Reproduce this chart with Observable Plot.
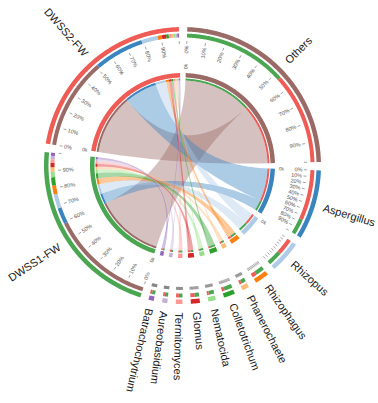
<!DOCTYPE html>
<html><head><meta charset="utf-8">
<script src="https://cdn.jsdelivr.net/npm/d3@7"></script>
<script src="https://cdn.jsdelivr.net/npm/@observablehq/plot@0.6"></script>
<style>body{margin:0;background:#fff} svg{display:block}</style>
</head><body><div id="chart"></div>
<script>
// ---- data ----
const genera = ["Others","Aspergillus","Rhizopus","Rhizophagus","Phanerochaete","Colletotrichum","Nematocida","Glomus","Termitomyces","Aureobasidium","Batrachochytrium"];
const genusColors = ["#9a6b66","#3a84c0","#aecbe8","#ff7f0e","#ffbb78","#2ca02c","#98df8a","#d62728","#ff9896","#c5b0d5","#9467bd"];
const samples = ["DWSS1-FW","DWSS2-FW"];
const sampleColors = ["#4aa651","#ef5b55"];
const dwss1 = [58, 9, 8, 5, 2.5, 4.5, 3, 2.5, 2, 1.8, 1.8];
const dwss2 = [51, 28, 9, 2.5, 1.2, 1.5, 1, 2.3, 1.5, 1, 1];
const tickPercents = [0,10,20,30,40,50,60,70,80,90,100];
const tickLabels = ["0%","10%","20%","30%","40%","50%","60%","70%","80%","90%"];
const labelledSectors = ["Others","Aspergillus","DWSS1-FW","DWSS2-FW"];
const zeroLabelSectors = ["Others","Aspergillus","Rhizopus","DWSS1-FW","DWSS2-FW"];

// ---- layout ----
const GAP = 3.5, START = 2;
const R = {chord: 85, tgt0: 85, tgt1: 87, in0: 88, in1: 92.5, lab: 120, tk0: 121.5, tk1: 124.5, st0: 128, st1: 132, out0: 134, out1: 138.5, name: 147, zero: 99};
const sectors = [
  ...genera.map((g, i) => ({name: g, color: genusColors[i], kind: "genus"})),
  ...samples.map((s, i) => ({name: s, color: sampleColors[i], kind: "sample"}))
];
const colorOf = Object.fromEntries(sectors.map(s => [s.name, s.color]));
const links = [];
genera.forEach((g, i) => {
  links.push({s: samples[0], g, v: dwss1[i]});
  links.push({s: samples[1], g, v: dwss2[i]});
});
sectors.forEach(sec => sec.total = d3.sum(links.filter(l => l.s === sec.name || l.g === sec.name), l => l.v));
const k = (360 - GAP * sectors.length) / d3.sum(sectors, s => s.total);
let acc = START;
sectors.forEach(sec => { sec.a0 = acc; sec.a1 = acc + sec.total * k; acc = sec.a1 + GAP; });
sectors.forEach(sec => {
  const own = links.filter(l => l.s === sec.name || l.g === sec.name).sort((p, q) => q.v - p.v);
  let pos = sec.a0;
  own.forEach(l => {
    const end = {a0: pos, a1: pos + l.v * k};
    if (l.s === sec.name) l.sEnd = end; else l.gEnd = end;
    pos = end.a1;
  });
});

// ---- geometry helpers ----
const rad = d => d * Math.PI / 180;
const pt = (r, deg) => [r * Math.sin(rad(deg)), r * Math.cos(rad(deg))];
function arcPts(r, d0, d1) {
  const n = Math.max(2, Math.ceil(Math.abs(d1 - d0) / 0.5) + 1);
  return d3.range(n).map(i => pt(r, d0 + (d1 - d0) * i / (n - 1)));
}
const band = (r0, r1, d0, d1) => [...arcPts(r1, d0, d1), ...arcPts(r0, d1, d0)];
function bez(p0, p2, n = 40) {
  return d3.range(1, n).map(i => { const t = i / n, u = 1 - t; return [u*u*p0[0] + t*t*p2[0], u*u*p0[1] + t*t*p2[1]]; });
}
function ribbon(r, s, t) {
  const A = arcPts(r, s.a0, s.a1), B = arcPts(r, t.a0, t.a1);
  return [...A, ...bez(A[A.length - 1], B[0]), ...B, ...bez(B[B.length - 1], A[0])];
}
let pid = 0;
const toRows = polys => polys.flatMap(p => { const id = pid++; return p.pts.map(([x, y]) => ({id, x, y, fill: p.fill})); });

// chords
const chordPolys = [...links].sort((a, b) => b.v - a.v).map(l => ({pts: ribbon(R.chord, l.sEnd, l.gEnd), fill: colorOf[l.g]}));
// rings
const ringPolys = [];
sectors.forEach(sec => {
  ringPolys.push({pts: band(R.in0, R.in1, sec.a0, sec.a1), fill: sec.color});
  ringPolys.push({pts: band(R.out0, R.out1, sec.a0, sec.a1), fill: sec.color});
});
links.forEach(l => {
  [[l.sEnd, colorOf[l.g]], [l.gEnd, colorOf[l.s]]].forEach(([e, c]) => {
    ringPolys.push({pts: band(R.tgt0, R.tgt1, e.a0, e.a1), fill: c});
    ringPolys.push({pts: band(R.st0, R.st1, e.a0, e.a1), fill: c});
  });
});
const chordRows = toRows(chordPolys);
const ringRows = toRows(ringPolys);

// ticks and labels
const ticks = [], tickTextR = [], tickTextL = [];
sectors.forEach(sec => {
  tickPercents.forEach((p, i) => {
    const a = sec.a0 + (sec.a1 - sec.a0) * p / 100;
    const [x1, y1] = pt(R.tk0, a), [x2, y2] = pt(R.tk1, a);
    ticks.push({x1, y1, x2, y2});
    if (labelledSectors.includes(sec.name) && i < tickLabels.length) {
      const [x, y] = pt(R.lab, a);
      if (sec.kind === "genus") tickTextR.push({x, y, text: tickLabels[i], rot: a - 90});
      else tickTextL.push({x, y, text: tickLabels[i], rot: a + 90});
    }
  });
});
const zeroText = sectors.filter(s => zeroLabelSectors.includes(s.name)).map(s => {
  const [x, y] = pt(R.zero, s.a0);
  return {x, y, text: "0k", rot: s.kind === "genus" ? s.a0 - 90 : s.a0 + 90};
});
const nameR = sectors.filter(s => s.kind === "genus").map(s => { const a = (s.a0 + s.a1) / 2; const [x, y] = pt(R.name, a); return {x, y, text: s.name, rot: a - 90}; });
const nameL = sectors.filter(s => s.kind === "sample").map(s => { const a = (s.a0 + s.a1) / 2; const [x, y] = pt(R.name, a); return {x, y, text: s.name, rot: a + 90}; });

const font = "Liberation Sans, Arial, sans-serif";
const chart = Plot.plot({
  width: 378, height: 403, margin: 0,
  x: {domain: [-182, 196], axis: null},
  y: {domain: [-238, 165], axis: null},
  style: {background: "#fff", fontFamily: font},
  marks: [
    Plot.line(chordRows, {x: "x", y: "y", z: "id", fill: "fill", stroke: "none", fillOpacity: 0.42, curve: "linear-closed"}),
    Plot.line(ringRows, {x: "x", y: "y", z: "id", fill: "fill", stroke: "none", curve: "linear-closed"}),
    Plot.link(ticks, {x1: "x1", y1: "y1", x2: "x2", y2: "y2", stroke: "#666", strokeWidth: 0.6}),
    Plot.text(tickTextR, {x: "x", y: "y", text: "text", rotate: "rot", textAnchor: "end", fontSize: 5.5, fill: "#555"}),
    Plot.text(tickTextL, {x: "x", y: "y", text: "text", rotate: "rot", textAnchor: "start", fontSize: 5.5, fill: "#555"}),
    Plot.text(zeroText, {x: "x", y: "y", text: "text", rotate: "rot", textAnchor: "middle", fontSize: 5, fill: "#555"}),
    Plot.text(nameR, {x: "x", y: "y", text: "text", rotate: "rot", textAnchor: "start", fontSize: 11, fill: "#1a1a1a"}),
    Plot.text(nameL, {x: "x", y: "y", text: "text", rotate: "rot", textAnchor: "end", fontSize: 11, fill: "#1a1a1a"})
  ]
});
document.getElementById("chart").append(chart);
</script>
</body></html>
